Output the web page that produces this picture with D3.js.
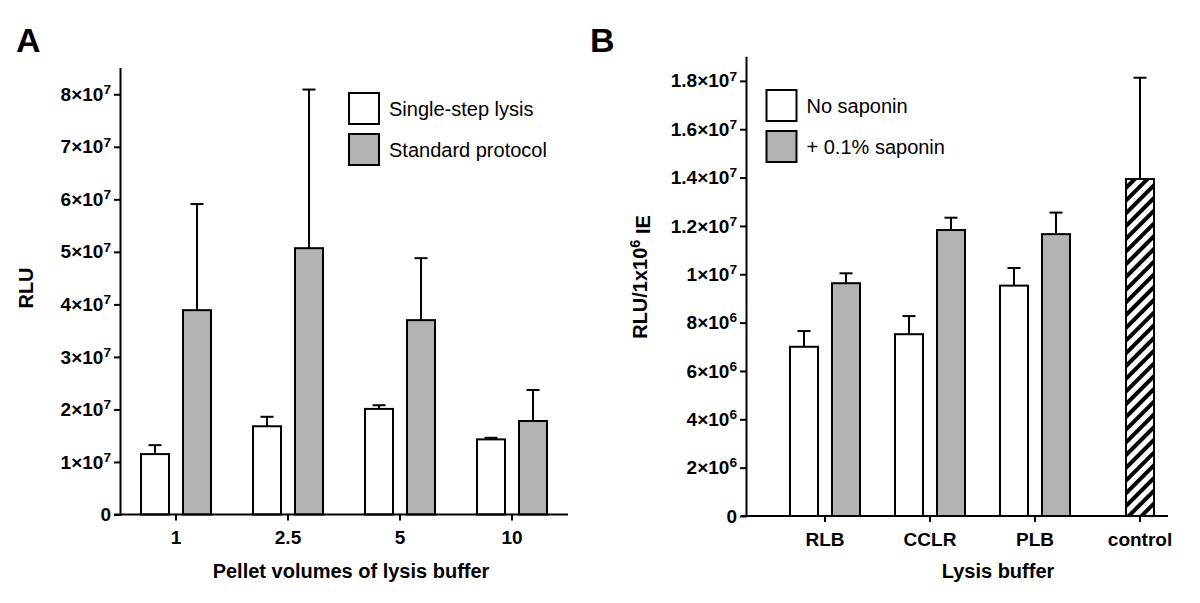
<!DOCTYPE html>
<html>
<head>
<meta charset="utf-8">
<script src="https://cdn.jsdelivr.net/npm/d3@7"></script>
<style>
  html, body { margin: 0; padding: 0; background: #fff; }
  svg { display: block; font-family: "Liberation Sans", Arial, Helvetica, sans-serif; }
</style>
</head>
<body>
<svg id="chart" width="1200" height="603"></svg>
<script>
// ---------- Data: Panel A ----------
const catsA = ["1", "2.5", "5", "10"];
const seriesA = ["Single-step lysis", "Standard protocol"];
const singleStep = [1.15e7, 1.68e7, 2.01e7, 1.43e7];
const singleStepErr = [0.17e7, 0.18e7, 0.07e7, 0.03e7];
const standardProtocol = [3.89e7, 5.07e7, 3.70e7, 1.78e7];
const standardProtocolErr = [2.02e7, 3.02e7, 1.18e7, 0.59e7];
const yTicksA = [0, 1e7, 2e7, 3e7, 4e7, 5e7, 6e7, 7e7, 8e7];
const yMaxA = 8.5e7;

// ---------- Data: Panel B ----------
const catsB = ["RLB", "CCLR", "PLB", "control"];
const seriesB = ["No saponin", "+ 0.1% saponin"];
const noSaponin = [7.0e6, 7.52e6, 9.53e6];
const noSaponinErr = [0.65e6, 0.75e6, 0.73e6];
const withSaponin = [9.63e6, 1.183e7, 1.166e7];
const withSaponinErr = [0.41e6, 0.51e6, 0.89e6];
const controlValue = [1.394e7];
const controlErr = [0.419e7];
const yTicksB = [0, 2e6, 4e6, 6e6, 8e6, 1e7, 1.2e7, 1.4e7, 1.6e7, 1.8e7];
const yMaxB = 1.9e7;

const GRAY = "#b3b3b3";
const svg = d3.select("#chart");

// hatch pattern for control
const defs = svg.append("defs");
const pat = defs.append("pattern")
  .attr("id", "hatch").attr("patternUnits", "userSpaceOnUse")
  .attr("width", 9).attr("height", 9)
  .attr("patternTransform", "rotate(45)");
pat.append("rect").attr("width", 9).attr("height", 9).attr("fill", "#fff");
pat.append("line").attr("x1", 2).attr("y1", 0).attr("x2", 2).attr("y2", 9)
  .attr("stroke", "#000").attr("stroke-width", 4);

function sciLabel(textSel) {
  textSel.each(function(d) {
    const t = d3.select(this);
    t.text(null);
    if (d === 0) { t.text("0"); return; }
    const e = Math.floor(Math.log10(d) + 1e-9);
    const m = +(d / Math.pow(10, e)).toFixed(1);
    t.append("tspan").text(m + "\u00d710");
    t.append("tspan").attr("dy", "-0.5em").attr("font-size", "0.72em").text(e);
  });
}

function styleAxis(g) {
  g.selectAll("path, line").attr("stroke", "#000").attr("stroke-width", 2);
  g.selectAll("text").attr("fill", "#000").attr("font-size", 19).attr("font-weight", "bold");
}

function errorBars(g, data, x, y) {
  const cap = 13;
  const eb = g.append("g").selectAll("g").data(data).join("g");
  eb.append("line")
    .attr("x1", d => x(d)).attr("x2", d => x(d))
    .attr("y1", d => y(d.v)).attr("y2", d => y(d.v + d.e))
    .attr("stroke", "#000").attr("stroke-width", 2);
  eb.append("line")
    .attr("x1", d => x(d) - cap / 2).attr("x2", d => x(d) + cap / 2)
    .attr("y1", d => y(d.v + d.e)).attr("y2", d => y(d.v + d.e))
    .attr("stroke", "#000").attr("stroke-width", 2);
}

function legend(g, items, x0, y0, fills) {
  items.forEach((name, i) => {
    const yy = y0 + i * 41;
    g.append("rect").attr("x", x0).attr("y", yy).attr("width", 30).attr("height", 31)
      .attr("fill", fills[i]).attr("stroke", "#000").attr("stroke-width", 2);
    g.append("text").attr("x", x0 + 40).attr("y", yy + 15.5).attr("dy", "0.35em")
      .attr("font-size", 20).attr("fill", "#000").text(name);
  });
}

// ================= Panel A =================
(function() {
  const axisX = 120.5, base = 514.5, top = 68;
  const y = d3.scaleLinear().domain([0, yMaxA]).range([base, top]);
  const x = d3.scaleBand().domain(catsA).range([120, 568]).padding(0);
  const xs = d3.scaleBand().domain(seriesA).range([21, 91]).paddingInner(1 / 3).paddingOuter(0);
  const g = svg.append("g");

  const rows = catsA.map((c, i) => [
    { c, s: seriesA[0], v: singleStep[i], e: singleStepErr[i], fill: "#fff" },
    { c, s: seriesA[1], v: standardProtocol[i], e: standardProtocolErr[i], fill: GRAY }
  ]).flat();
  const bx = d => x(d.c) + xs(d.s) + xs.bandwidth() / 2;
  errorBars(g, rows, bx, y);
  g.append("g").selectAll("rect").data(rows).join("rect")
    .attr("x", d => x(d.c) + xs(d.s)).attr("width", xs.bandwidth())
    .attr("y", d => y(d.v)).attr("height", d => base - y(d.v))
    .attr("fill", d => d.fill).attr("stroke", "#000").attr("stroke-width", 2);

  const ya = g.append("g").attr("transform", `translate(${axisX},0)`)
    .call(d3.axisLeft(y).tickValues(yTicksA).tickSize(6.5).tickPadding(3));
  ya.select(".domain").remove();
  ya.append("line").attr("x1", 0).attr("x2", 0).attr("y1", top).attr("y2", base + 1);
  styleAxis(ya);
  ya.selectAll(".tick text").call(sciLabel);

  const xa = g.append("g").attr("transform", `translate(0,${base})`)
    .call(d3.axisBottom(x).tickSize(6).tickPadding(10));
  xa.select(".domain").remove();
  xa.append("line").attr("x1", 114).attr("x2", 568).attr("y1", 0).attr("y2", 0);
  styleAxis(xa);

  g.append("text").attr("x", 351).attr("y", 578).attr("text-anchor", "middle")
    .attr("font-size", 20).attr("font-weight", "bold").text("Pellet volumes of lysis buffer");
  g.append("text").attr("transform", "translate(33,288) rotate(-90)").attr("text-anchor", "middle")
    .attr("font-size", 20).attr("font-weight", "bold").text("RLU");
  g.append("text").attr("x", 16).attr("y", 52).attr("font-size", 34).attr("font-weight", "bold").text("A");

  legend(g, seriesA, 349, 93, ["#fff", GRAY]);
})();

// ================= Panel B =================
(function() {
  const axisX = 746.5, base = 516, top = 56.7;
  const y = d3.scaleLinear().domain([0, yMaxB]).range([base, top]);
  const x = d3.scaleBand().domain(catsB).range([772.5, 1192.5]).padding(0);
  const xs = d3.scaleBand().domain(seriesB).range([17.5, 87.5]).paddingInner(1 / 3).paddingOuter(0);
  const g = svg.append("g");

  const rows = catsB.slice(0, 3).map((c, i) => [
    { c, s: seriesB[0], v: noSaponin[i], e: noSaponinErr[i], fill: "#fff" },
    { c, s: seriesB[1], v: withSaponin[i], e: withSaponinErr[i], fill: GRAY }
  ]).flat();
  const ctrl = [{ c: catsB[3], v: controlValue[0], e: controlErr[0] }];
  const bx = d => x(d.c) + xs(d.s) + xs.bandwidth() / 2;
  const cx = d => x(d.c) + x.bandwidth() / 2;

  errorBars(g, rows, bx, y);
  errorBars(g, ctrl, cx, y);
  g.append("g").selectAll("rect").data(rows).join("rect")
    .attr("x", d => x(d.c) + xs(d.s)).attr("width", xs.bandwidth())
    .attr("y", d => y(d.v)).attr("height", d => base - y(d.v))
    .attr("fill", d => d.fill).attr("stroke", "#000").attr("stroke-width", 2);
  g.append("g").selectAll("rect").data(ctrl).join("rect")
    .attr("x", d => cx(d) - xs.bandwidth() / 2).attr("width", xs.bandwidth())
    .attr("y", d => y(d.v)).attr("height", d => base - y(d.v))
    .attr("fill", "url(#hatch)").attr("stroke", "#000").attr("stroke-width", 2);

  const ya = g.append("g").attr("transform", `translate(${axisX},0)`)
    .call(d3.axisLeft(y).tickValues(yTicksB).tickSize(6.5).tickPadding(3));
  ya.select(".domain").remove();
  ya.append("line").attr("x1", 0).attr("x2", 0).attr("y1", top).attr("y2", base + 1);
  styleAxis(ya);
  ya.selectAll(".tick text").call(sciLabel);

  const xa = g.append("g").attr("transform", `translate(0,${base})`)
    .call(d3.axisBottom(x).tickSize(6).tickPadding(11));
  xa.select(".domain").remove();
  xa.append("line").attr("x1", 741).attr("x2", 1168).attr("y1", 0).attr("y2", 0);
  styleAxis(xa);

  g.append("text").attr("x", 998).attr("y", 578).attr("text-anchor", "middle")
    .attr("font-size", 20).attr("font-weight", "bold").text("Lysis buffer");
  const yt = g.append("text").attr("transform", "translate(647,277) rotate(-90)").attr("text-anchor", "middle")
    .attr("font-size", 20).attr("font-weight", "bold");
  yt.append("tspan").text("RLU/1x10");
  yt.append("tspan").attr("dy", "-0.5em").attr("font-size", "0.72em").text("6");
  yt.append("tspan").attr("dy", "0.5em").text(" IE");
  g.append("text").attr("x", 590).attr("y", 52).attr("font-size", 34).attr("font-weight", "bold").text("B");

  legend(g, seriesB, 766.5, 90, ["#fff", GRAY]);
})();
</script>
</body>
</html>
